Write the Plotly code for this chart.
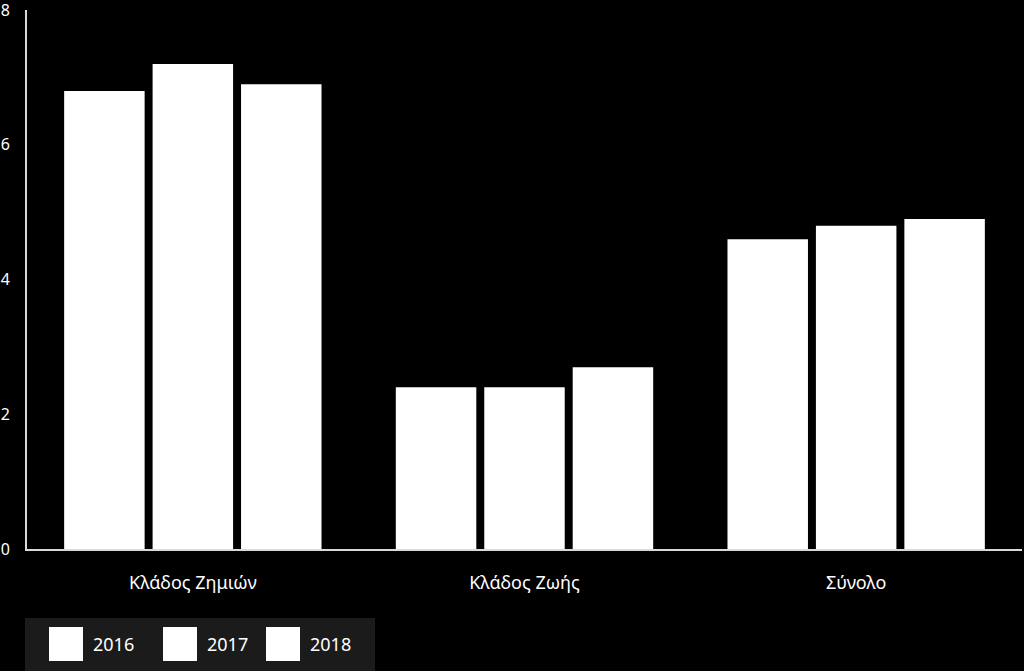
import plotly.graph_objects as go

categories = ["Κλάδος Ζημιών", "Κλάδος Ζωής", "Σύνολο"]
years = ["2016", "2017", "2018"]
values_2016 = [6.8, 2.4, 4.6]
values_2017 = [7.2, 2.4, 4.8]
values_2018 = [6.9, 2.7, 4.9]
series = [values_2016, values_2017, values_2018]
y_ticks = [0, 2, 4, 6, 8]

FONT = "Noto Sans"
fig = go.Figure()
for name, vals in zip(years, series):
    fig.add_trace(go.Bar(x=categories, y=vals, name=name,
                         marker=dict(color="#ffffff", line=dict(width=0))))

W, H = 1024, 671
ml, mr, mt, mb = 27, 2, 10, 122
fig.update_layout(
    width=W, height=H,
    paper_bgcolor="#000000", plot_bgcolor="#000000",
    margin=dict(l=ml, r=mr, t=mt, b=mb, pad=0, autoexpand=False),
    barmode="group", bargap=0.2, bargroupgap=0.09,
    showlegend=False,
    font=dict(family=FONT, color="#ffffff", size=15),
)
fig.update_yaxes(range=[0, 8.002], tickvals=y_ticks, showgrid=False, zeroline=False,
                 showline=True, linecolor="#d9d9d9", linewidth=2, automargin=False,
                 ticks="", ticklabelstandoff=12, ticklabeloverflow="allow",
                 tickfont=dict(size=16, color="#ffffff"))
fig.update_xaxes(showgrid=False, showline=True, linecolor="#d9d9d9", linewidth=2,
                 automargin=False,
                 ticks="", ticklabelstandoff=16, tickfont=dict(size=18, color="#ffffff"))

PW = W - ml - mr
PH = H - mt - mb

def fx(p):
    return (p - ml) / PW

def fy(p):
    return (H - mb - p) / PH

# custom legend (large swatches)
fig.add_shape(type="rect", xref="paper", yref="paper",
              x0=fx(25), x1=fx(375), y0=fy(671), y1=fy(618),
              fillcolor="#1b1b1b", line=dict(width=0), layer="below")
sw_x = [49, 163, 266]
for i, name in enumerate(years):
    x0 = sw_x[i]
    fig.add_shape(type="rect", xref="paper", yref="paper",
                  x0=fx(x0), x1=fx(x0 + 34), y0=fy(661), y1=fy(627),
                  fillcolor="#ffffff", line=dict(width=0))
    fig.add_annotation(xref="paper", yref="paper",
                       x=fx(x0 + 42), y=fy(644),
                       text=name, showarrow=False, xanchor="left", yanchor="middle",
                       font=dict(family=FONT, size=18, color="#ffffff"))

fig.write_html("out.html", config={"displayModeBar": False},
               post_script="document.body.style.margin='0';document.body.style.background='#000';")
